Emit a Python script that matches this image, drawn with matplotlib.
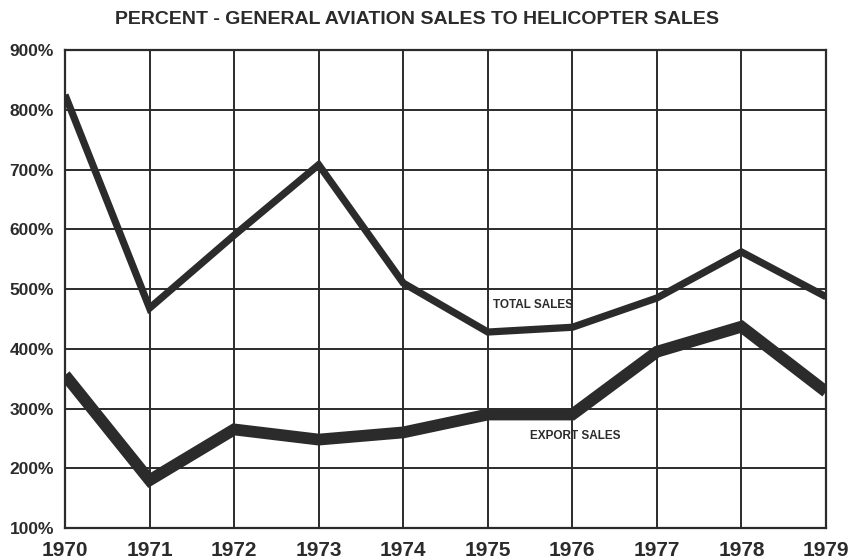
import matplotlib
matplotlib.use("Agg")
import matplotlib.pyplot as plt

years = [1970, 1971, 1972, 1973, 1974, 1975, 1976, 1977, 1978, 1979]
total_sales = [825, 468, 590, 708, 510, 428, 436, 485, 562, 487]
export_sales = [356, 180, 265, 248, 260, 290, 290, 395, 437, 328]
y_ticks = [100, 200, 300, 400, 500, 600, 700, 800, 900]
y_labels = [f"{v}%" for v in y_ticks]

ink = "#2b2b2b"
plt.rcParams["font.family"] = ["Liberation Sans", "DejaVu Sans"]

fig = plt.figure(figsize=(8.52, 5.6), dpi=100)
ax = fig.add_axes([0.0763, 0.0571, 0.8932, 0.8536])

ax.plot(years, total_sales, color=ink, lw=5.2, solid_joinstyle="miter",
        solid_capstyle="butt", zorder=3)
ax.plot(years, export_sales, color=ink, lw=8.5, solid_joinstyle="miter",
        solid_capstyle="butt", zorder=3)

ax.set_xlim(years[0], years[-1])
ax.set_ylim(100, 900)
ax.set_xticks(years)
ax.set_xticklabels([str(y) for y in years], fontsize=15, fontweight="bold",
                   color=ink)
ax.set_yticks(y_ticks)
ax.set_yticklabels(y_labels, fontsize=12.5, fontweight="bold", color=ink)
ax.tick_params(length=0, pad=8)
ax.tick_params(axis="x", pad=9)
ax.grid(True, color=ink, lw=1.4)
for s in ax.spines.values():
    s.set_color(ink)
    s.set_linewidth(1.6)

ax.text(1975.53, 473, "TOTAL SALES", fontsize=8.5, fontweight="bold",
        color=ink, ha="center", va="center")
ax.text(1976.03, 254, "EXPORT SALES", fontsize=8.5, fontweight="bold",
        color=ink, ha="center", va="center")

fig.text(0.49, 0.965, "PERCENT - GENERAL AVIATION SALES TO HELICOPTER SALES",
         fontsize=14, fontweight="bold", color=ink, ha="center", va="center")

fig.savefig("out.png", dpi=100)
